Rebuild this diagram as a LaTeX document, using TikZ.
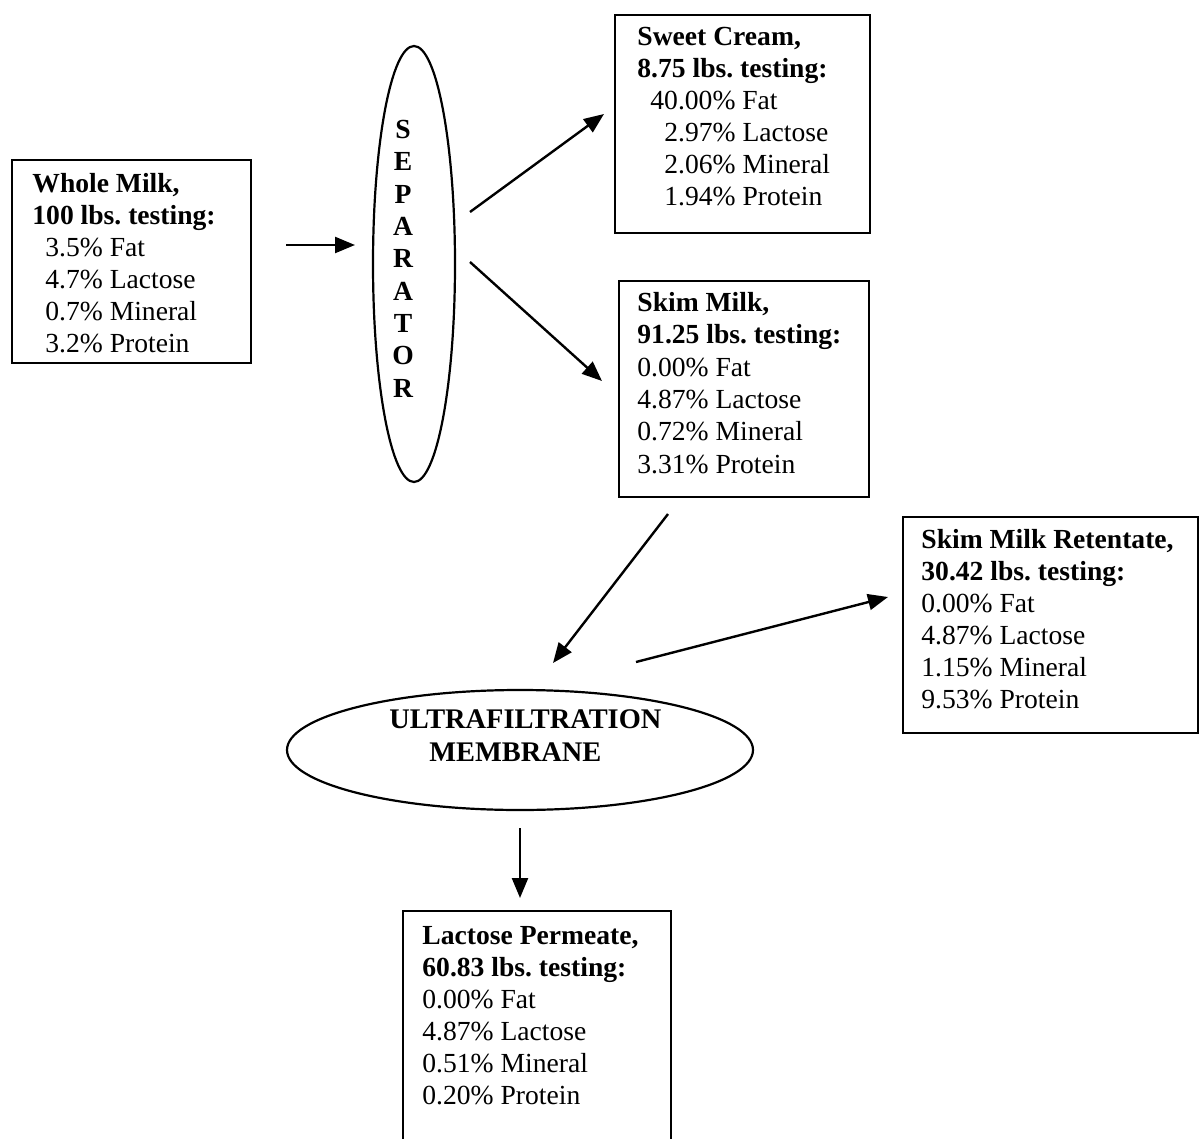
\documentclass[tikz,border=0pt]{standalone}
\usepackage{fontspec}
\setmainfont{Liberation Serif}
\usetikzlibrary{shapes.geometric,arrows.meta}
\frenchspacing
\tikzset{
  boxframe/.style={draw, line width=1pt, inner sep=0pt},
  txt/.style={anchor=north west, align=left, inner sep=0pt, font=\frenchspacing\fontsize{13.8}{16}\selectfont},
  oval/.style={draw, ellipse, line width=1.1pt, inner sep=0pt},
  flow/.style={line width=1.2pt, -{Triangle[length=10pt,width=8pt]}}
}
\begin{document}
\begin{tikzpicture}[x=0.5pt,y=-0.5pt]
\useasboundingbox (0,0) rectangle (1199,1139);
% Whole milk
\node[boxframe, minimum width=119.5pt, minimum height=101.5pt] (wm) at (131.5,261.5) {};
\node[txt] (wmt) at (32,169.6) {\strut\textbf{Whole Milk,}\\ \textbf{100 lbs. testing:}\\ \hspace*{6.5pt}3.5\% Fat\\ \hspace*{6.5pt}4.7\% Lactose\\ \hspace*{6.5pt}0.7\% Mineral\\ \hspace*{6.5pt}3.2\% Protein};
% Separator
\node[oval, minimum width=41pt, minimum height=218pt] (sep) at (414,264) {};
\node[anchor=north, align=center, inner sep=0pt, font=\bfseries\fontsize{13.8}{16.15}\selectfont] (sept) at (403,115.6) {\strut S\\E\\P\\A\\R\\A\\T\\O\\R};
% Sweet cream
\node[boxframe, minimum width=127.5pt, minimum height=109pt] (sc) at (742.5,124) {};
\node[txt] (sct) at (637,22.6) {\strut\textbf{Sweet Cream,}\\ \textbf{8.75 lbs. testing:}\\ \hspace*{6.5pt}40.00\% Fat\\ \hspace*{13.5pt}2.97\% Lactose\\ \hspace*{13.5pt}2.06\% Mineral\\ \hspace*{13.5pt}1.94\% Protein};
% Skim milk
\node[boxframe, minimum width=125pt, minimum height=108pt] (skim) at (744,389) {};
\node[txt, font=\frenchspacing\fontsize{13.8}{16.2}\selectfont] (skimt) at (637,288.3) {\strut\textbf{Skim Milk,}\\ \textbf{91.25 lbs. testing:}\\ 0.00\% Fat\\ 4.87\% Lactose\\ 0.72\% Mineral\\ 3.31\% Protein};
% Retentate
\node[boxframe, minimum width=147.5pt, minimum height=108pt] (ret) at (1050.5,625) {};
\node[txt] (rett) at (921,525.6) {\strut\textbf{Skim Milk Retentate,}\\ \textbf{30.42 lbs. testing:}\\ 0.00\% Fat\\ 4.87\% Lactose\\ 1.15\% Mineral\\ 9.53\% Protein};
% UF membrane
\node[oval, minimum width=233pt, minimum height=60pt] (uf) at (520,750) {};
\node[anchor=west, align=left, inner sep=0pt, font=\bfseries\fontsize{14.2}{16.5}\selectfont] (uft) at (389,736) {ULTRAFILTRATION\\\hspace*{20pt}MEMBRANE};
% Permeate (open at the bottom)
\draw[line width=1pt] (403,1139) -- (403,911) -- (671,911) -- (671,1139);
\node[txt] (permt) at (422,921.6) {\strut\textbf{Lactose Permeate,}\\ \textbf{60.83 lbs. testing:}\\ 0.00\% Fat\\ 4.87\% Lactose\\ 0.51\% Mineral\\ 0.20\% Protein};
% connector ends
\coordinate (a1s) at (286,245); \coordinate (a1e) at (355,245);
\coordinate (a2s) at (470,212); \coordinate (a2e) at (604,114);
\coordinate (a3s) at (470,262); \coordinate (a3e) at (602,381);
\coordinate (a4s) at (668,514); \coordinate (a4e) at (553,663);
\coordinate (a5s) at (636,662); \coordinate (a5e) at (888,597);
\coordinate (a6s) at (520,828); \coordinate (a6e) at (520,898);
\draw[flow] (a1s) -- (a1e);
\draw[flow] (a2s) -- (a2e);
\draw[flow] (a3s) -- (a3e);
\draw[flow] (a4s) -- (a4e);
\draw[flow] (a5s) -- (a5e);
\draw[flow] (a6s) -- (a6e);
\end{tikzpicture}
\end{document}
